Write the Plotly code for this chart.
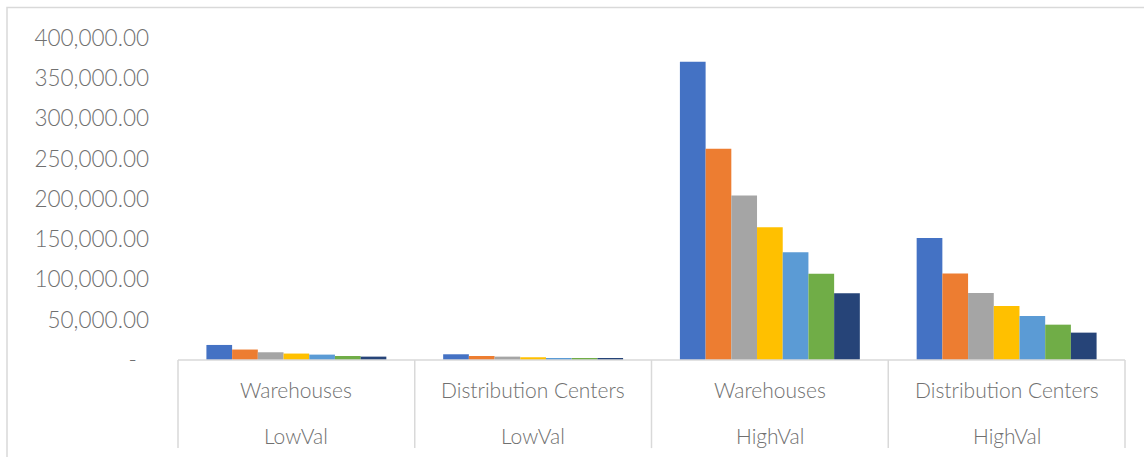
import plotly.graph_objects as go

segment = ["Warehouses", "Distribution Centers", "Warehouses", "Distribution Centers"]
value_class = ["LowVal", "LowVal", "HighVal", "HighVal"]
series_names = ["Series 1", "Series 2", "Series 3", "Series 4", "Series 5", "Series 6", "Series 7"]
s1 = [18700, 7100, 370600, 151700]
s2 = [13000, 5000, 262400, 107300]
s3 = [9600, 4200, 204300, 83300]
s4 = [8000, 3400, 165000, 67200]
s5 = [6700, 2100, 134000, 54700]
s6 = [5000, 1800, 107000, 43900]
s7 = [4200, 1500, 83000, 34000]
y_ticks = [0, 50000, 100000, 150000, 200000, 250000, 300000, 350000, 400000]
y_tick_text = ["-\u00a0\u00a0", "50,000.00", "100,000.00", "150,000.00", "200,000.00",
               "250,000.00", "300,000.00", "350,000.00", "400,000.00"]

colors = ["#4472C4", "#ED7D31", "#A5A5A5", "#FFC000", "#5B9BD5", "#70AD47", "#264478"]
series = [s1, s2, s3, s4, s5, s6, s7]

cats = [f"{v} {s}" for s, v in zip(segment, value_class)]

W, H = 1144, 457
L, R, T, B = 178, 19, 38.4, 97
pw, ph = W - L - R, H - T - B

fig = go.Figure()
for name, vals, c in zip(series_names, series, colors):
    fig.add_trace(go.Bar(x=cats, y=vals, name=name, marker=dict(color=c, line=dict(width=0))))

font_family = "Lato, 'Open Sans', sans-serif"
grey_txt = "#707070"
line_col = "#d9d9d9"

shapes = []
# chart border
shapes.append(dict(type="rect", xref="paper", yref="paper",
                   x0=(7 - L) / pw, x1=1.2, y0=-0.6, y1=(H - B - 8) / ph,
                   line=dict(color=line_col, width=1.5), fillcolor="rgba(0,0,0,0)", layer="below"))
# category axis line
shapes.append(dict(type="line", xref="paper", yref="paper", x0=0, x1=1, y0=0, y1=0,
                   line=dict(color=line_col, width=1.5)))
# category dividers
for i in range(len(cats) + 1):
    xp = i / len(cats)
    shapes.append(dict(type="line", xref="paper", yref="paper", x0=xp, x1=xp, y0=0,
                       y1=-(448 - (H - B)) / ph, line=dict(color=line_col, width=1.5)))

annotations = []
for c, s, v in zip(cats, segment, value_class):
    annotations.append(dict(x=c, xref="x", y=-29 / ph, yref="paper", text=s, showarrow=False,
                            yanchor="middle",
                            font=dict(family=font_family, size=21, color=grey_txt, weight=300)))
    annotations.append(dict(x=c, xref="x", y=-75 / ph, yref="paper", text=v, showarrow=False,
                            yanchor="middle",
                            font=dict(family=font_family, size=21, color=grey_txt, weight=300)))

fig.update_layout(
    width=W, height=H,
    margin=dict(l=L, r=R, t=T, b=B, pad=0),
    paper_bgcolor="white", plot_bgcolor="white",
    barmode="group", bargap=0.24, bargroupgap=0,
    showlegend=False,
    shapes=shapes, annotations=annotations,
    xaxis=dict(showticklabels=False, showgrid=False, zeroline=False, showline=False, ticks=""),
    yaxis=dict(range=[0, 400000], tickvals=y_ticks, ticktext=y_tick_text, showgrid=False,
               zeroline=False, showline=False, ticks="", ticklen=0, ticklabelstandoff=28,
               tickfont=dict(family=font_family, size=22.5, color=grey_txt, weight=300)),
)
fig.write_html("out.html")
